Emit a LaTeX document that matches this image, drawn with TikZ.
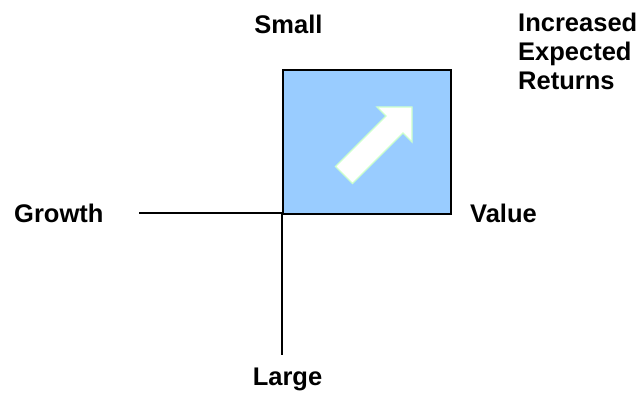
\documentclass[tikz,border=0pt]{standalone}
\usepackage{fontspec}
\setmainfont{Liberation Sans}
\begin{document}
\begin{tikzpicture}[x=1pt,y=-1pt,
  lbl/.style={font=\fontsize{25.5}{29}\selectfont\bfseries, inner sep=0pt},
  axis/.style={line width=1.4pt, black},
  quad/.style={draw=black, line width=2pt, fill=boxblue},
  bigarrow/.style={draw=arrowgreen, line width=1.3pt, fill=white, line join=miter}]
\definecolor{boxblue}{HTML}{99CCFF}
\definecolor{arrowgreen}{HTML}{CCFFCC}
\useasboundingbox (0,0) rectangle (641,395);
% quadrant box
\node[quad, minimum width=168pt, minimum height=144pt, anchor=north west, inner sep=0pt] (box) at (282,69) {};
% axes
\coordinate (origin) at (282,213);
\coordinate (hend) at (139,213);
\coordinate (vend) at (282,355);
\draw[axis] (hend) -- (origin);
\draw[axis] (origin) -- (vend);
% arrow
\draw[bigarrow] (412,107) -- (377,107) -- (386,116) -- (335.5,166.5) -- (352.5,183.5) -- (403,133) -- (412,142) -- cycle;
% labels
\node[lbl, anchor=base] (small) at (288.5,34) {Small};
\node[lbl, anchor=base] (large) at (287.5,386) {Large};
\node[lbl, anchor=base west] (growth) at (14,223) {Growth};
\node[lbl, anchor=base west] (value) at (470,223) {Value};
\node[lbl, anchor=base west, align=left] (ret1) at (518,32) {Increased};
\node[lbl, anchor=base west] (ret2) at (518,61) {Expected};
\node[lbl, anchor=base west] (ret3) at (518,90) {Returns};
\end{tikzpicture}
\end{document}
